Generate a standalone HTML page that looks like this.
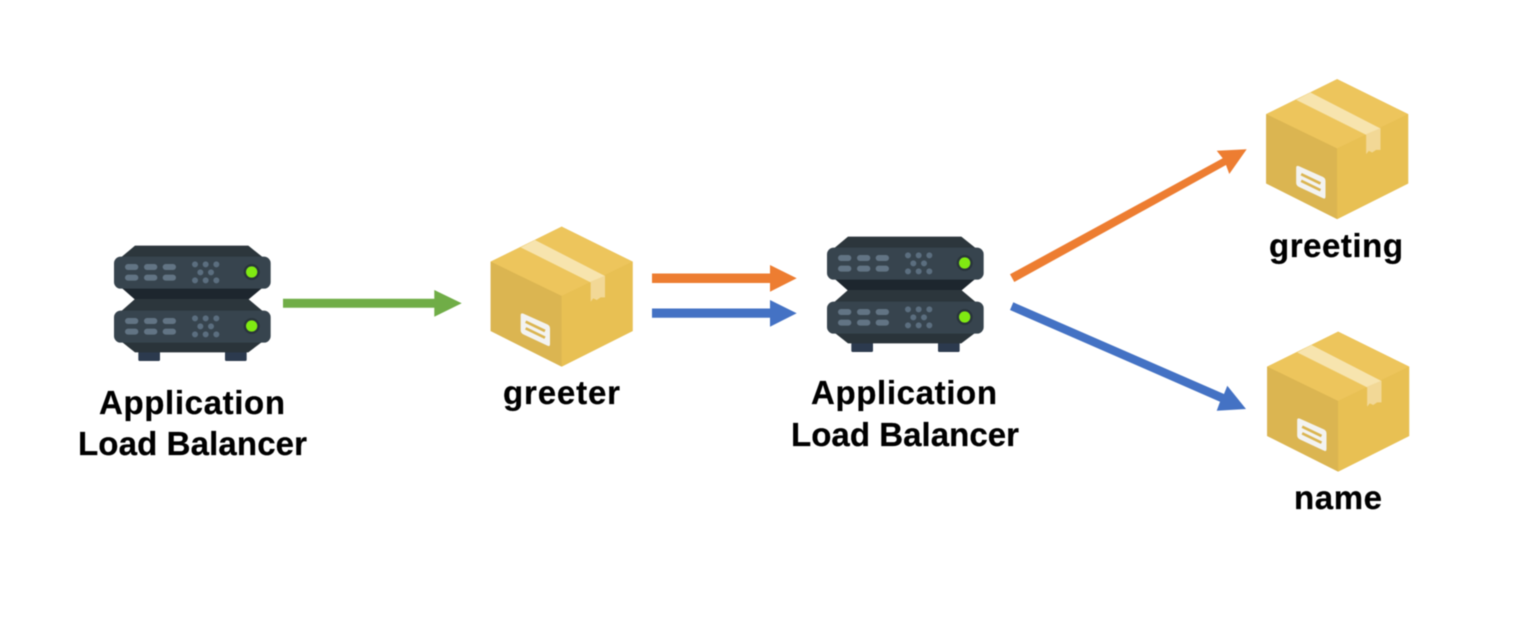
<!DOCTYPE html>
<html><head><meta charset="utf-8"><style>
html,body{margin:0;padding:0;background:#fff;width:1538px;height:627px;overflow:hidden}
svg{display:block;filter:blur(.5px)}
text{font-family:"Liberation Sans",sans-serif;font-weight:700;font-size:33px;fill:#000;stroke:#000;stroke-width:.25px}
</style></head><body>
<svg width="1538" height="627" viewBox="0 0 1538 627" xmlns="http://www.w3.org/2000/svg">
<defs>
<g id="unit">
<rect x="42" y="65" width="470" height="96" rx="20" fill="#37444e"/>
<rect x="75" y="87" width="40" height="18" rx="9" fill="#627484"/><rect x="132" y="87" width="40" height="18" rx="9" fill="#627484"/><rect x="188" y="87" width="40" height="18" rx="9" fill="#627484"/>
<rect x="75" y="119" width="40" height="18" rx="9" fill="#627484"/><rect x="132" y="119" width="40" height="18" rx="9" fill="#627484"/><rect x="188" y="119" width="40" height="18" rx="9" fill="#627484"/>
<g fill="#5b6e7f"><circle cx="285" cy="88" r="9"/><circle cx="317" cy="88" r="9"/><circle cx="349" cy="88" r="9"/><circle cx="301" cy="112" r="9"/><circle cx="333" cy="112" r="9"/><circle cx="285" cy="136" r="9"/><circle cx="317" cy="136" r="9"/><circle cx="349" cy="136" r="9"/></g>
<circle cx="455" cy="111" r="24" fill="#29343b"/><circle cx="455" cy="111" r="17" fill="#80ea12"/>
</g>
<g id="server" transform="translate(100 235) scale(.33333)">
<path d="M115 350h65v24q0 4-4 4h-57q-4 0-4-4zM375 350h65v24q0 4-4 4h-57q-4 0-4-4z" fill="#2c3a4e"/>
<path d="M105 32H445L490 68H62Z" fill="#2c363c"/>
<path d="M62 156H490L445 194H105Z" fill="#1d262e"/>
<path d="M105 192H445L490 230H62Z" fill="#2c363c"/>
<path d="M62 318H490L445 352H105Z" fill="#2a343a"/>
<use href="#unit"/>
<use href="#unit" y="162"/>
</g>
<g id="box" transform="translate(480 220) scale(.33333)">
<path d="M245 20L458 125V333L245 440 32 333V125Z" fill="#e2bb55"/>
<path d="M245 20L458 125 245 228 32 125Z" fill="#edc55c"/>
<path d="M32 125L245 228V440L32 333Z" fill="#dbb551"/>
<path d="M245 228L458 125V333L245 440Z" fill="#e8c053"/>
<path d="M122 82L165 60 375 168 332 187Z" fill="#f7e4ae"/>
<path d="M332 185L375 167V232H362L350 240 340 235 332 245Z" fill="#f2d896"/>
<path d="M122 286q0-8 8-5L202 313q8 4 8 12V372q0 9-8 5L130 343q-8-4-8-12Z" fill="#f3f3f1"/>
<path d="M137 305L195 333M137 325L195 353" stroke="#dbb551" stroke-width="8" fill="none"/>
</g>
</defs>

<use href="#server"/>
<use href="#server" x="713" y="-9"/>
<use href="#box"/>
<use href="#box" x="775.5" y="-147.5"/>
<use href="#box" x="776.5" y="105"/>

<path d="M283 298.7H434.3V290L461.7 303.3 434.3 316.7V307.7H283Z" fill="#70ad47"/>
<path d="M652 273.5H770V265L796.7 278.3 770 291.7V283H652Z" fill="#ed7d31"/>
<path d="M652 308.5H770V300L796.7 313.3 770 326.7V317.7H652Z" fill="#4472c4"/>
<path d="M1010 274.3L1222.7 158.3 1216.7 150.7 1246.7 149.3 1229.3 174 1226 165 1014.3 282Z" fill="#ed7d31"/>
<path d="M1013.3 302.3L1224 394 1227.3 385.7 1246 409 1216.7 410.7 1220 401.7 1010 310Z" fill="#4472c4"/>

<text x="99" y="414" textLength="186" lengthAdjust="spacing">Application</text>
<text x="78" y="455" textLength="229" lengthAdjust="spacing">Load Balancer</text>
<text x="503" y="404" textLength="117" lengthAdjust="spacing">greeter</text>
<text x="811" y="404" textLength="186" lengthAdjust="spacing">Application</text>
<text x="791" y="446" textLength="228" lengthAdjust="spacing">Load Balancer</text>
<text x="1269" y="257" textLength="134" lengthAdjust="spacing">greeting</text>
<text x="1294" y="509" textLength="88" lengthAdjust="spacing">name</text>
</svg>
</body></html>
